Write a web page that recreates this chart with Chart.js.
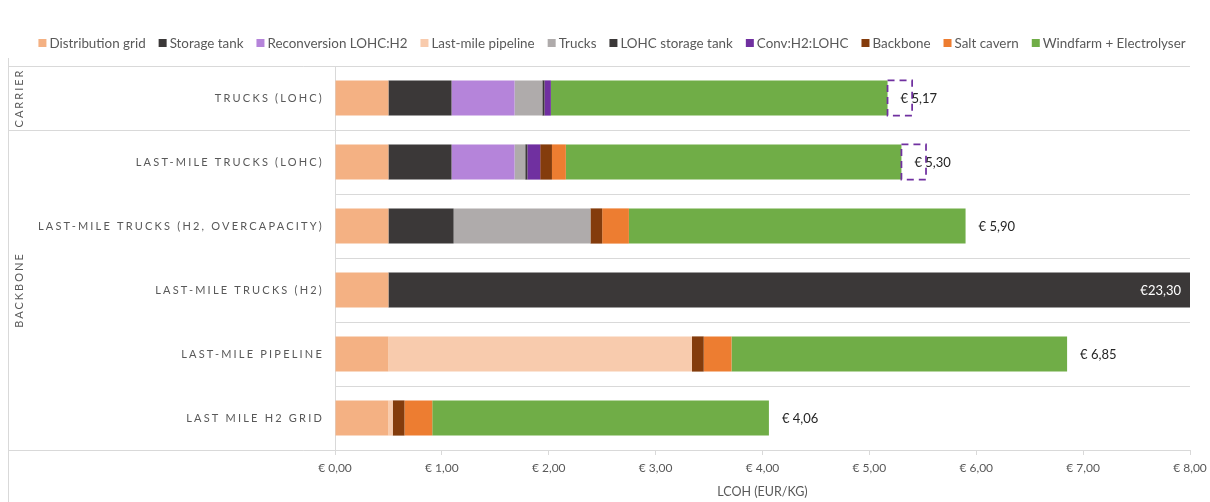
<!DOCTYPE html>
<html>
<head>
<meta charset="utf-8">
<title>LCOH per delivery route</title>
<script src="https://cdn.jsdelivr.net/npm/chart.js@4.4.1/dist/chart.umd.min.js"></script>
<style>
  html, body { margin: 0; padding: 0; background: #fff; }
  #wrap { width: 1210px; height: 502px; position: relative; }
</style>
</head>
<body>
<div id="wrap"><canvas id="lcoh"></canvas></div>
<script>
/* =========================================================
   Levelised cost of hydrogen per delivery route
   stacked horizontal bars, EUR/kg
   ========================================================= */

const FONT = "Lato, 'Noto Sans', sans-serif";
const GRID = '#d9d9d9';
const TEXT = '#595959';

// Delivery routes, top to bottom
const routes = [
  'TRUCKS (LOHC)',
  'LAST-MILE TRUCKS (LOHC)',
  'LAST-MILE TRUCKS (H2, OVERCAPACITY)',
  'LAST-MILE TRUCKS (H2)',
  'LAST-MILE PIPELINE',
  'LAST MILE H2 GRID'
];

// Outer category level (index range into routes)
const groupNames = ['CARRIER', 'BACKBONE'];
const groupFrom  = [0, 1];
const groupTo    = [0, 5];

// Cost components, EUR/kg per route
const distributionGrid = [0.50, 0.50, 0.50, 0.50, 0.50, 0.50];
const storageTank      = [0.59, 0.59, 0.61, 22.80, 0, 0];
const reconversion     = [0.59, 0.59, 0, 0, 0, 0];
const lastMilePipeline = [0, 0, 0, 0, 2.84, 0.04];
const trucks           = [0.26, 0.10, 1.28, 0, 0, 0];
const lohcStorageTank  = [0.02, 0.02, 0, 0, 0, 0];
const convH2Lohc       = [0.06, 0.12, 0, 0, 0, 0];
const backbone         = [0, 0.11, 0.11, 0, 0.11, 0.11];
const saltCavern       = [0, 0.13, 0.25, 0, 0.26, 0.26];
const windfarm         = [3.15, 3.14, 3.15, 0, 3.14, 3.15];

// LOHC spread, drawn as a dashed outline after the total
const lohcRange        = [0.23, 0.23, 0, 0, 0, 0];

// x axis range
const xMin = 0;
const xMax = 8;
const xStep = 1;

const components = [
  { label: 'Distribution grid',        data: distributionGrid, color: '#f4b183' },
  { label: 'Storage tank',             data: storageTank,      color: '#3b3838' },
  { label: 'Reconversion LOHC:H2',     data: reconversion,     color: '#b584da' },
  { label: 'Last-mile pipeline',       data: lastMilePipeline, color: '#f8cbad' },
  { label: 'Trucks',                   data: trucks,           color: '#afabab' },
  { label: 'LOHC storage tank',        data: lohcStorageTank,  color: '#3b3838' },
  { label: 'Conv:H2:LOHC',             data: convH2Lohc,       color: '#7030a0' },
  { label: 'Backbone',                 data: backbone,         color: '#843c0c' },
  { label: 'Salt cavern',              data: saltCavern,       color: '#ed7d31' },
  { label: 'Windfarm + Electrolyser',  data: windfarm,         color: '#70ad47' }
];

const totals = routes.map((_, i) => components.reduce((s, c) => s + c.data[i], 0));

const euro = v => (v >= 10 ? '€' : '€ ') + v.toFixed(2).replace('.', ',');

/** Legend row above the plot */
const legendRow = {
  id: 'legendRow',
  afterDraw(chart) {
    const ctx = chart.ctx;
    const items = chart.data.datasets.filter(d => !d.outline);
    const box = 8, gap = 3, spacing = 13, y = 43;
    ctx.save();
    ctx.font = `13.4px ${FONT}`;
    ctx.textBaseline = 'middle';
    ctx.textAlign = 'left';
    const widths = items.map(d => box + gap + ctx.measureText(d.label).width);
    const total = widths.reduce((a, b) => a + b, 0) + spacing * (items.length - 1);
    let x = (chart.width - total) / 2 + 7;
    items.forEach((d, i) => {
      ctx.fillStyle = d.backgroundColor;
      ctx.fillRect(x, y - box / 2, box, box);
      ctx.fillStyle = TEXT;
      ctx.fillText(d.label, x + box + gap, y + 0.5);
      x += widths[i] + spacing;
    });
    ctx.restore();
  }
};

/** Two-level category axis: route names plus rotated group names */
const categoryAxis = {
  id: 'categoryAxis',
  afterDraw(chart) {
    const { ctx, chartArea } = chart;
    const y = chart.scales.y;
    const half = Math.abs(y.getPixelForValue(1) - y.getPixelForValue(0)) / 2;
    const outerX = 8.5;

    ctx.save();
    // outer frame line and group separators
    ctx.strokeStyle = GRID;
    ctx.lineWidth = 1;
    ctx.beginPath();
    ctx.moveTo(outerX, 58);
    ctx.lineTo(outerX, chart.height);
    groupNames.forEach((_, g) => {
      const top = Math.round(y.getPixelForValue(groupFrom[g]) - half) + 0.5;
      const bot = Math.round(y.getPixelForValue(groupTo[g]) + half) + 0.5;
      [top, bot].forEach(py => {
        ctx.moveTo(outerX, py);
        ctx.lineTo(chartArea.right, py);
      });
    });
    ctx.stroke();

    // route labels
    ctx.fillStyle = TEXT;
    ctx.font = `11px ${FONT}`;
    ctx.letterSpacing = '2.2px';
    ctx.textAlign = 'right';
    ctx.textBaseline = 'middle';
    chart.data.labels.forEach((lbl, i) => {
      ctx.fillText(lbl, chartArea.left - 11, y.getPixelForValue(i));
    });

    // group labels, rotated
    ctx.letterSpacing = '2px';
    ctx.textAlign = 'center';
    groupNames.forEach((name, g) => {
      const cy = (y.getPixelForValue(groupFrom[g]) + y.getPixelForValue(groupTo[g])) / 2;
      ctx.save();
      ctx.translate(19, cy);
      ctx.rotate(-Math.PI / 2);
      ctx.fillText(name, 0, 0);
      ctx.restore();
    });
    ctx.restore();
  }
};

/** Dashed outline for the LOHC spread and total labels */
const barExtras = {
  id: 'barExtras',
  afterDatasetsDraw(chart) {
    const { ctx, chartArea } = chart;
    const xs = chart.scales.x;
    const ys = chart.scales.y;

    ctx.save();
    chart.data.datasets.forEach((ds, di) => {
      if (!ds.outline) return;
      chart.getDatasetMeta(di).data.forEach((bar, i) => {
        if (!ds.data[i]) return;
        const h = bar.height;
        ctx.strokeStyle = '#7030a0';
        ctx.lineWidth = 1.75;
        ctx.setLineDash([7, 5]);
        ctx.strokeRect(bar.base, bar.y - h / 2, bar.x - bar.base, h);
      });
    });
    ctx.setLineDash([]);

    ctx.font = `13px ${FONT}`;
    ctx.textBaseline = 'middle';
    totals.forEach((t, i) => {
      const px = xs.getPixelForValue(t);
      const py = ys.getPixelForValue(i);
      if (px > chartArea.right) {
        ctx.fillStyle = '#ffffff';
        ctx.textAlign = 'right';
        ctx.fillText(euro(t), chartArea.right - 9, py + 1);
      } else {
        ctx.fillStyle = '#262626';
        ctx.textAlign = 'left';
        ctx.fillText(euro(t), px + 13, py + 1);
      }
    });
    ctx.restore();
  }
};

const datasets = components.map(c => ({
  label: c.label,
  data: c.data,
  backgroundColor: c.color,
  borderWidth: 0
}));
datasets.push({
  label: 'LOHC range',
  data: lohcRange,
  backgroundColor: 'rgba(0,0,0,0)',
  borderWidth: 0,
  outline: true
});

new Chart(document.getElementById('lcoh'), {
  type: 'bar',
  data: { labels: routes, datasets },
  options: {
    indexAxis: 'y',
    responsive: true,
    maintainAspectRatio: false,
    animation: false,
    categoryPercentage: 1,
    barPercentage: 0.55,
    layout: { padding: { top: 66, right: 20, left: 0, bottom: 0 } },
    plugins: {
      legend: { display: false },
      tooltip: { enabled: false }
    },
    scales: {
      x: {
        stacked: true,
        min: xMin,
        max: xMax,
        ticks: {
          stepSize: xStep,
          padding: 6,
          color: TEXT,
          font: { family: FONT, size: 12 },
          callback: v => euro(v)
        },
        grid: { drawOnChartArea: false, drawTicks: true, tickLength: 5, color: GRID },
        border: { color: GRID },
        title: {
          display: true,
          text: 'LCOH (EUR/KG)',
          color: TEXT,
          font: { family: FONT, size: 12.5 },
          padding: { top: 0, bottom: 3 }
        },
        afterFit(s) {
          s.height = 52;
          s.paddingLeft = 0;
          s.paddingRight = 0;
        }
      },
      y: {
        stacked: true,
        ticks: { display: false },
        grid: { offset: true, drawTicks: false, color: GRID },
        border: { color: GRID },
        afterFit(s) { s.width = 335; }
      }
    }
  },
  plugins: [legendRow, categoryAxis, barExtras]
});
</script>
</body>
</html>
